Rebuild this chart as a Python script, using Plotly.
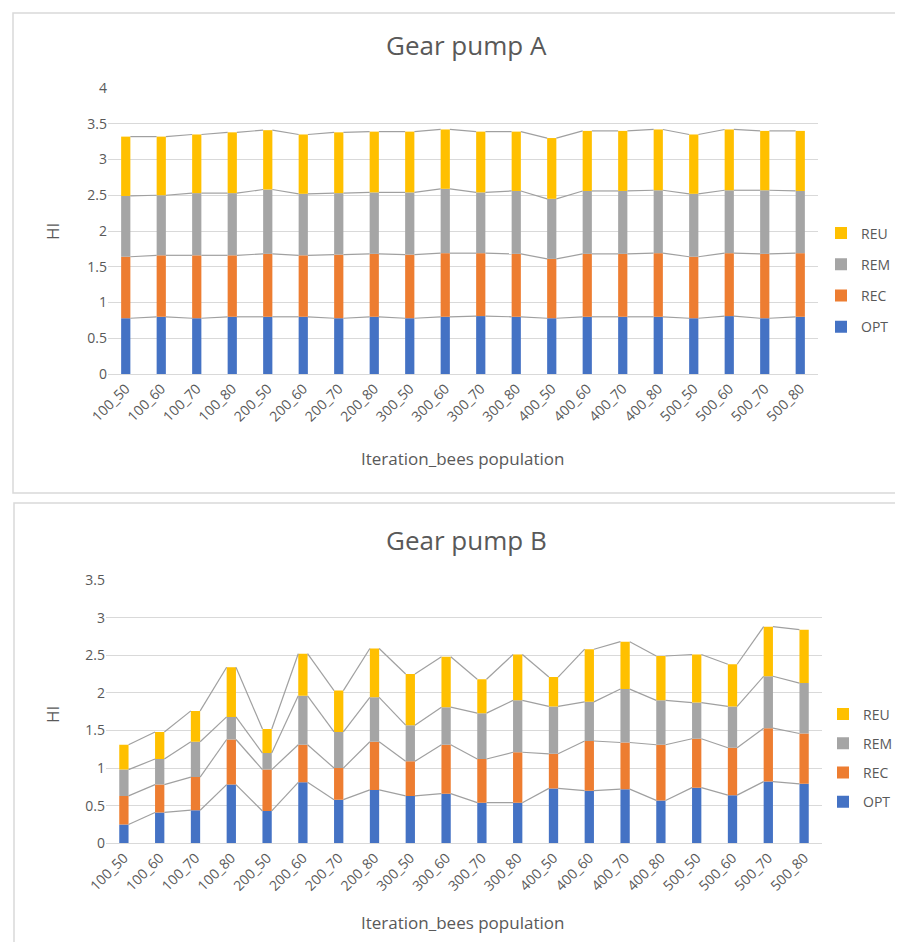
import plotly.graph_objects as go

categories = ["100_50", "100_60", "100_70", "100_80", "200_50", "200_60", "200_70", "200_80",
              "300_50", "300_60", "300_70", "300_80", "400_50", "400_60", "400_70", "400_80",
              "500_50", "500_60", "500_70", "500_80"]
series_names = ["OPT", "REC", "REM", "REU"]
series_colors = ["#4472C4", "#ED7D31", "#A5A5A5", "#FFC000"]

# Gear pump A (segment values)
a_opt = [0.78, 0.80, 0.78, 0.80, 0.80, 0.80, 0.78, 0.80, 0.78, 0.80, 0.81, 0.80, 0.78, 0.80, 0.80, 0.80, 0.78, 0.81, 0.78, 0.80]
a_rec = [0.86, 0.86, 0.88, 0.86, 0.88, 0.86, 0.89, 0.88, 0.89, 0.89, 0.88, 0.88, 0.83, 0.88, 0.88, 0.89, 0.86, 0.88, 0.90, 0.89]
a_rem = [0.85, 0.84, 0.87, 0.87, 0.90, 0.86, 0.86, 0.86, 0.87, 0.90, 0.85, 0.88, 0.84, 0.88, 0.88, 0.88, 0.88, 0.88, 0.89, 0.87]
a_reu = [0.83, 0.82, 0.82, 0.85, 0.83, 0.83, 0.85, 0.85, 0.85, 0.83, 0.85, 0.83, 0.85, 0.84, 0.84, 0.85, 0.83, 0.85, 0.83, 0.84]

# Gear pump B (segment values)
b_opt = [0.25, 0.41, 0.44, 0.78, 0.43, 0.81, 0.58, 0.71, 0.63, 0.66, 0.54, 0.54, 0.73, 0.70, 0.72, 0.57, 0.74, 0.64, 0.82, 0.79]
b_rec = [0.38, 0.37, 0.44, 0.60, 0.55, 0.50, 0.42, 0.64, 0.46, 0.65, 0.58, 0.67, 0.46, 0.66, 0.62, 0.74, 0.65, 0.63, 0.71, 0.67]
b_rem = [0.35, 0.34, 0.47, 0.30, 0.22, 0.65, 0.48, 0.59, 0.48, 0.50, 0.61, 0.69, 0.63, 0.52, 0.71, 0.59, 0.48, 0.55, 0.69, 0.67]
b_reu = [0.33, 0.36, 0.41, 0.66, 0.32, 0.56, 0.55, 0.65, 0.68, 0.67, 0.45, 0.61, 0.39, 0.70, 0.63, 0.59, 0.64, 0.56, 0.66, 0.71]

panel_titles = ["Gear pump A", "Gear pump B"]
x_title = "Iteration_bees population"
y_title = "HI"

FONT = "Open Sans, Noto Sans, sans-serif"
TXT = "#595959"
GRID = "#D9D9D9"
LINE = "#A0A0A0"
BAR_W = 0.26
OFF = 8                  # default page margin of the browser
W, H = 903 - 2 * OFF, 950 - 2 * OFF

fig = go.Figure()
xpos = list(range(len(categories)))


def add_panel(data, xa, ya, legend):
    cum = [0.0] * len(categories)
    n = len(series_names)
    for k, (name, col, vals) in enumerate(zip(series_names, series_colors, data)):
        fig.add_trace(go.Bar(x=xpos, y=vals, base=cum[:], name=name, marker_color=col,
                             marker_line_width=0, width=BAR_W, xaxis=xa, yaxis=ya,
                             legend=legend, legendgroup=legend + name, legendrank=n - k))
        cum = [c + v for c, v in zip(cum, vals)]
        lx, ly = [], []
        for i in range(len(categories) - 1):
            lx += [i + BAR_W / 2, i + 1 - BAR_W / 2, None]
            ly += [cum[i], cum[i + 1], None]
        fig.add_trace(go.Scatter(x=lx, y=ly, mode="lines", line=dict(color=LINE, width=1.2),
                                 xaxis=xa, yaxis=ya, showlegend=False, hoverinfo="skip"))


add_panel([a_opt, a_rec, a_rem, a_reu], "x", "y", "legend")
add_panel([b_opt, b_rec, b_rem, b_reu], "x2", "y2", "legend2")


def px_x(p):
    return (p - OFF) / W


def px_y(p):
    return 1 - (p - OFF) / H


xaxis_common = dict(tickmode="array", tickvals=xpos, ticktext=categories, tickangle=-45,
                    range=[-0.5, len(categories) - 0.5], showgrid=False, zeroline=False,
                    showline=True, linecolor=GRID, linewidth=1, ticks="", automargin=False,
                    tickfont=dict(family=FONT, size=14, color=TXT))
yaxis_common = dict(showgrid=True, gridcolor=GRID, gridwidth=1, zeroline=False, showline=False,
                    ticks="", dtick=0.5, tickfont=dict(family=FONT, size=14, color=TXT),
                    tickformat="~g", automargin=False)

fig.update_layout(
    width=W, height=H, margin=dict(l=0, r=0, t=0, b=0, pad=0, autoexpand=False),
    paper_bgcolor="white", plot_bgcolor="white", barmode="overlay",
    font=dict(family=FONT, color=TXT),
    xaxis=dict(domain=[px_x(108), px_x(818)], anchor="y", **xaxis_common),
    yaxis=dict(domain=[px_y(374), px_y(88)], range=[0, 4], anchor="x", **yaxis_common),
    xaxis2=dict(domain=[px_x(106), px_x(822)], anchor="y2", **xaxis_common),
    yaxis2=dict(domain=[px_y(843.3), px_y(580)], range=[0, 3.5], anchor="x2", **yaxis_common),
    legend=dict(x=px_x(821), y=px_y(280), xanchor="left", yanchor="middle",
                traceorder="grouped", tracegroupgap=10,
                font=dict(family=FONT, size=14, color=TXT), bgcolor="rgba(0,0,0,0)"),
    legend2=dict(x=px_x(823), y=px_y(758), xanchor="left", yanchor="middle",
                 traceorder="grouped", tracegroupgap=8,
                 font=dict(family=FONT, size=14, color=TXT), bgcolor="rgba(0,0,0,0)"),
    showlegend=True,
)

# Panel frames
fig.add_shape(type="rect", xref="paper", yref="paper", x0=px_x(13), x1=px_x(920),
              y0=px_y(493), y1=px_y(13), line=dict(color=GRID, width=1.5), layer="below")
fig.add_shape(type="rect", xref="paper", yref="paper", x0=px_x(14), x1=px_x(920),
              y0=px_y(970), y1=px_y(503), line=dict(color=GRID, width=1.5), layer="below")

ann = [
    (panel_titles[0], 466, 45, 26, 0),
    (panel_titles[1], 466, 540, 26, 0),
    (x_title, 463, 458, 17, 0),
    (x_title, 463, 922, 17, 0),
    (y_title, 52, 232, 17, -90),
    (y_title, 52, 715, 17, -90),
]
for text, x, y, size, ang in ann:
    fig.add_annotation(text=text, x=px_x(x), y=px_y(y), xref="paper", yref="paper",
                       showarrow=False, xanchor="center", yanchor="middle", textangle=ang,
                       font=dict(family=FONT, size=size, color=TXT))

fig.write_html("out.html", config={"displayModeBar": False})
